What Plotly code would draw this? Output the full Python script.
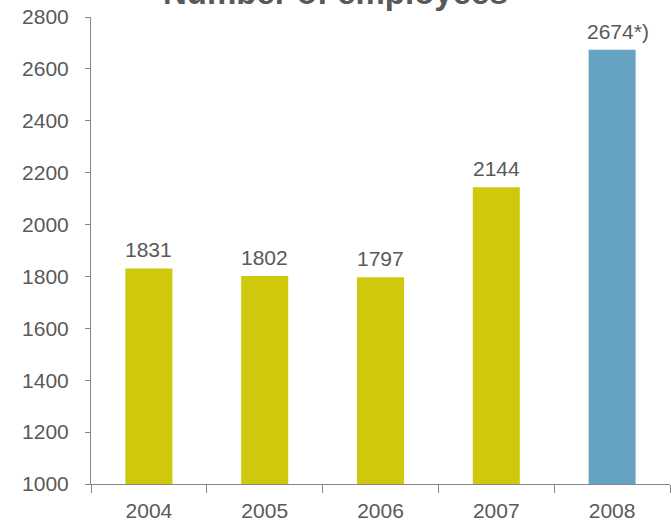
import plotly.graph_objects as go

# Headcount per year
years = ["2004", "2005", "2006", "2007", "2008"]
employees = [1831, 1802, 1797, 2144, 2674]
label_suffix = ["", "", "", "", "*)"]
bar_colors = ["#CFC80C", "#CFC80C", "#CFC80C", "#CFC80C", "#66A3C1"]

y_ticks = [1000, 1200, 1400, 1600, 1800, 2000, 2200, 2400, 2600, 2800]

TEXT = "#595959"
AXIS = "#868686"
FONT = "Liberation Sans, Arial, sans-serif"

fig = go.Figure(
    go.Bar(
        x=years,
        y=employees,
        marker=dict(color=bar_colors, line=dict(width=0)),
        hoverinfo="skip",
    )
)

# value labels above the bars (category axis: position by index)
for i, (val, suf) in enumerate(zip(employees, label_suffix)):
    fig.add_annotation(
        x=i, y=val, text=f"{val}{suf}",
        xref="x", yref="y", showarrow=False,
        yanchor="bottom", yshift=5,
        xshift=6 if suf else 0,
        font=dict(family=FONT, size=21, color=TEXT),
    )

# chart title, partly above the visible page
fig.add_annotation(
    x=(335.5 - 91) / 579, xref="paper", y=1, yref="paper",
    xanchor="center", yanchor="bottom",
    text="<b>Number of employees</b>", showarrow=False,
    font=dict(family=FONT, size=33, color=TEXT),
    yshift=4,
)

fig.update_layout(
    width=671, height=520,
    margin=dict(l=91, r=1, t=17, b=36, autoexpand=False),
    paper_bgcolor="white", plot_bgcolor="white",
    showlegend=False,
    bargap=0.594,
    font=dict(family=FONT, size=21, color=TEXT),
)

fig.update_xaxes(
    type="category", range=[-0.5, 4.5],
    showline=True, linecolor=AXIS, linewidth=1,
    ticks="outside", tickson="boundaries", ticklen=8, tickcolor=AXIS,
    showgrid=False, zeroline=False, tickangle=0,
    tickfont=dict(family=FONT, size=21, color=TEXT),
    ticklabelstandoff=8,
)

fig.update_yaxes(
    range=[1000, 2800],
    tickvals=y_ticks,
    showline=True, linecolor=AXIS, linewidth=1,
    ticks="outside", ticklen=5, tickcolor=AXIS,
    showgrid=False, zeroline=False,
    tickfont=dict(family=FONT, size=21, color=TEXT),
    ticklabelstandoff=12,
)

fig.write_html("out.html")
